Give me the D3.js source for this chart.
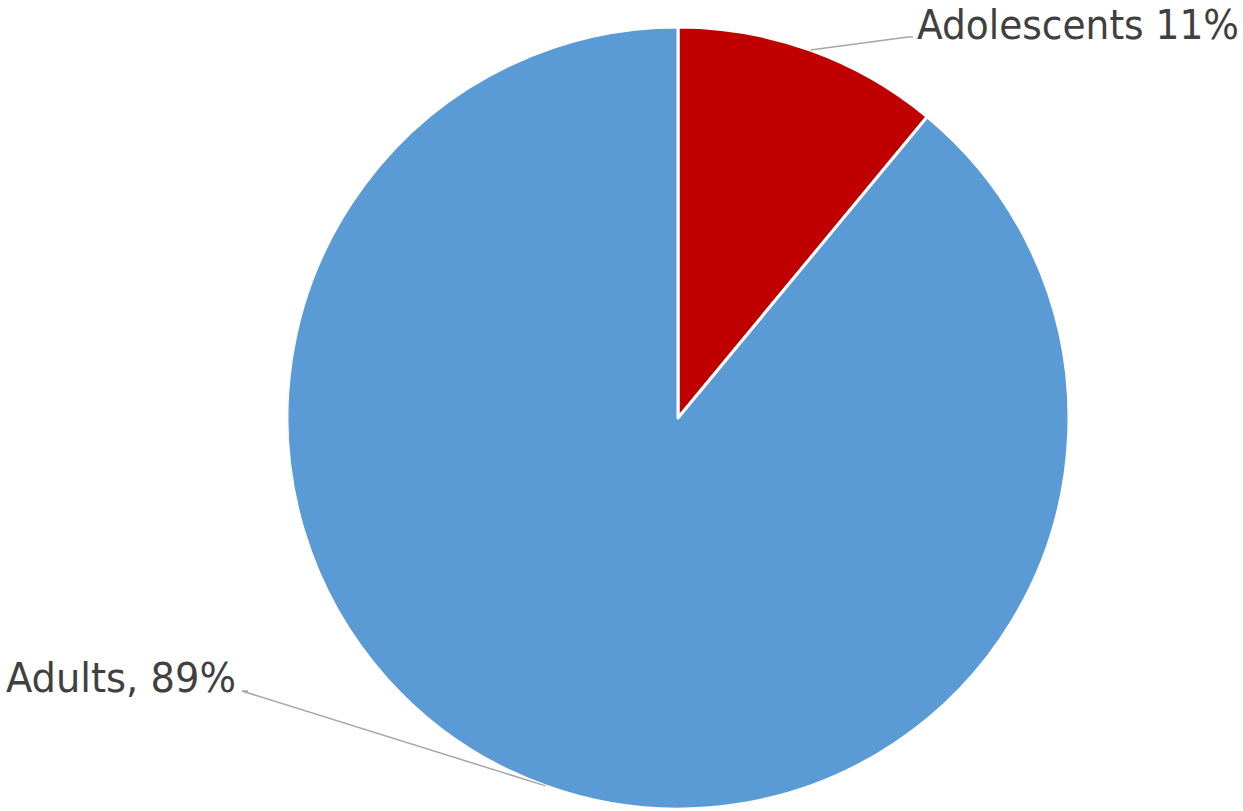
<!DOCTYPE html>
<html>
<head>
<meta charset="utf-8">
<script src="https://cdn.jsdelivr.net/npm/d3@7"></script>
<style>
  html, body { margin: 0; padding: 0; background: #fff; }
  svg { display: block; }
</style>
</head>
<body>
<svg id="chart" width="1243" height="811"></svg>
<script>
// Share of cases by age group
const categories = ["Adolescents", "Adults"];
const values = [11, 89];
const labels = ["Adolescents 11%", "Adults, 89%"];
const colors = ["#C00000", "#5B9BD5"];

const svg = d3.select("#chart");
const cx = 678, cy = 418, radius = 391;

const g = svg.append("g").attr("transform", `translate(${cx},${cy})`);

const pie = d3.pie().sort(null).value(d => d.value);
const data = pie(categories.map((c, i) => ({ name: c, value: values[i], label: labels[i], color: colors[i] })));

const arc = d3.arc().innerRadius(0).outerRadius(radius);
const edgeArc = d3.arc().innerRadius(radius).outerRadius(radius);

g.selectAll("path.slice")
  .data(data)
  .enter().append("path")
  .attr("class", "slice")
  .attr("d", arc)
  .attr("fill", d => d.data.color)
  .attr("stroke", "#fff")
  .attr("stroke-width", 3)
  .attr("stroke-linejoin", "round");

// Label placement: leader end point and text baseline, relative to the pie centre
const labelLayout = [
  { x: 235, y: -381, elbow: 230, anchor: "start", tx: 239, ty: -379.5, width: 322 },
  { x: -430, y: 273, elbow: -436, anchor: "end", tx: -442, ty: 274, width: 230 }
];

data.forEach((d, i) => {
  const [ex, ey] = edgeArc.centroid(d);
  const L = labelLayout[i];
  g.append("polyline")
    .attr("points", `${ex},${ey} ${L.elbow},${L.y} ${L.x},${L.y}`)
    .attr("fill", "none")
    .attr("stroke", "#A6A6A6")
    .attr("stroke-width", 1.5);
  g.append("text")
    .attr("x", L.tx)
    .attr("y", L.ty)
    .attr("text-anchor", L.anchor)
    .attr("font-family", "'DejaVu Sans Condensed', 'DejaVu Sans', sans-serif")
    .attr("font-size", 41)
    .attr("fill", "#404040")
    .attr("textLength", L.width)
    .attr("lengthAdjust", "spacingAndGlyphs")
    .text(d.data.label);
});
</script>
</body>
</html>
